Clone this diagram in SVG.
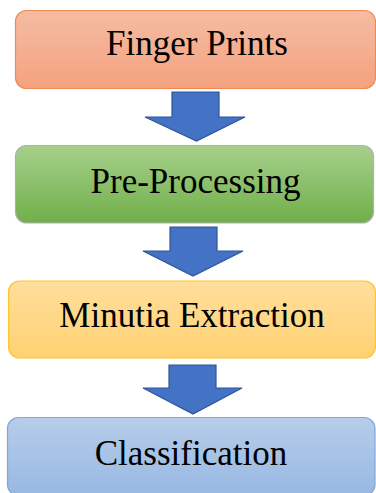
<svg xmlns="http://www.w3.org/2000/svg" width="376" height="493" viewBox="0 0 376 493">
<defs>
<linearGradient id="gOrange" x1="0" y1="0" x2="0" y2="1"><stop offset="0" stop-color="#F5BCA3"/><stop offset="1" stop-color="#F4A27E"/></linearGradient>
<linearGradient id="gGreen" x1="0" y1="0" x2="0" y2="1"><stop offset="0" stop-color="#A6D08B"/><stop offset="1" stop-color="#71AF4A"/></linearGradient>
<linearGradient id="gYellow" x1="0" y1="0" x2="0" y2="1"><stop offset="0" stop-color="#FFDE9C"/><stop offset="1" stop-color="#FFD172"/></linearGradient>
<linearGradient id="gBlue" x1="0" y1="0" x2="0" y2="1"><stop offset="0" stop-color="#B6CDEA"/><stop offset="1" stop-color="#98B8E2"/></linearGradient>
</defs>
<style>
.lbl{font-family:'Liberation Serif','DejaVu Serif',serif;font-size:35px;fill:#000;text-anchor:middle}
.arrow{fill:#4472C4;stroke:#2F5597;stroke-width:1.2;stroke-linejoin:miter}
</style>
<g id="node-finger-prints">
<rect x="15.5" y="10.5" width="360" height="78" rx="11" fill="url(#gOrange)" stroke="#F08A50" stroke-width="1.2"/>
<text class="lbl" x="197" y="55" font-family="Liberation Serif, DejaVu Serif, serif">Finger Prints</text>
</g>
<g id="node-pre-processing">
<rect x="15.5" y="145.5" width="358" height="77.5" rx="11" fill="url(#gGreen)" stroke="#B0B0B0" stroke-width="1.2"/>
<text class="lbl" x="195.5" y="193" font-family="Liberation Serif, DejaVu Serif, serif">Pre-Processing</text>
</g>
<g id="node-minutia-extraction">
<rect x="8.5" y="281" width="367" height="77" rx="11" fill="url(#gYellow)" stroke="#FFC52A" stroke-width="1.2"/>
<text class="lbl" x="192" y="327" font-family="Liberation Serif, DejaVu Serif, serif">Minutia Extraction</text>
</g>
<g id="node-classification">
<rect x="7.5" y="417.5" width="367.5" height="78" rx="11" fill="url(#gBlue)" stroke="#7FA7DB" stroke-width="1.2"/>
<text class="lbl" x="191" y="465" font-family="Liberation Serif, DejaVu Serif, serif">Classification</text>
</g>
<g id="connectors">
<polygon class="arrow" points="172,92 219,92 219,117 245,117 196.5,141 145,117 172,117"/>
<polygon class="arrow" points="170,227 217,227 217,251 243,251 193,276 143,251 170,251"/>
<polygon class="arrow" points="169,365 216,365 216,388 242,388 193,414 143,388 169,388"/>
</g>
</svg>
